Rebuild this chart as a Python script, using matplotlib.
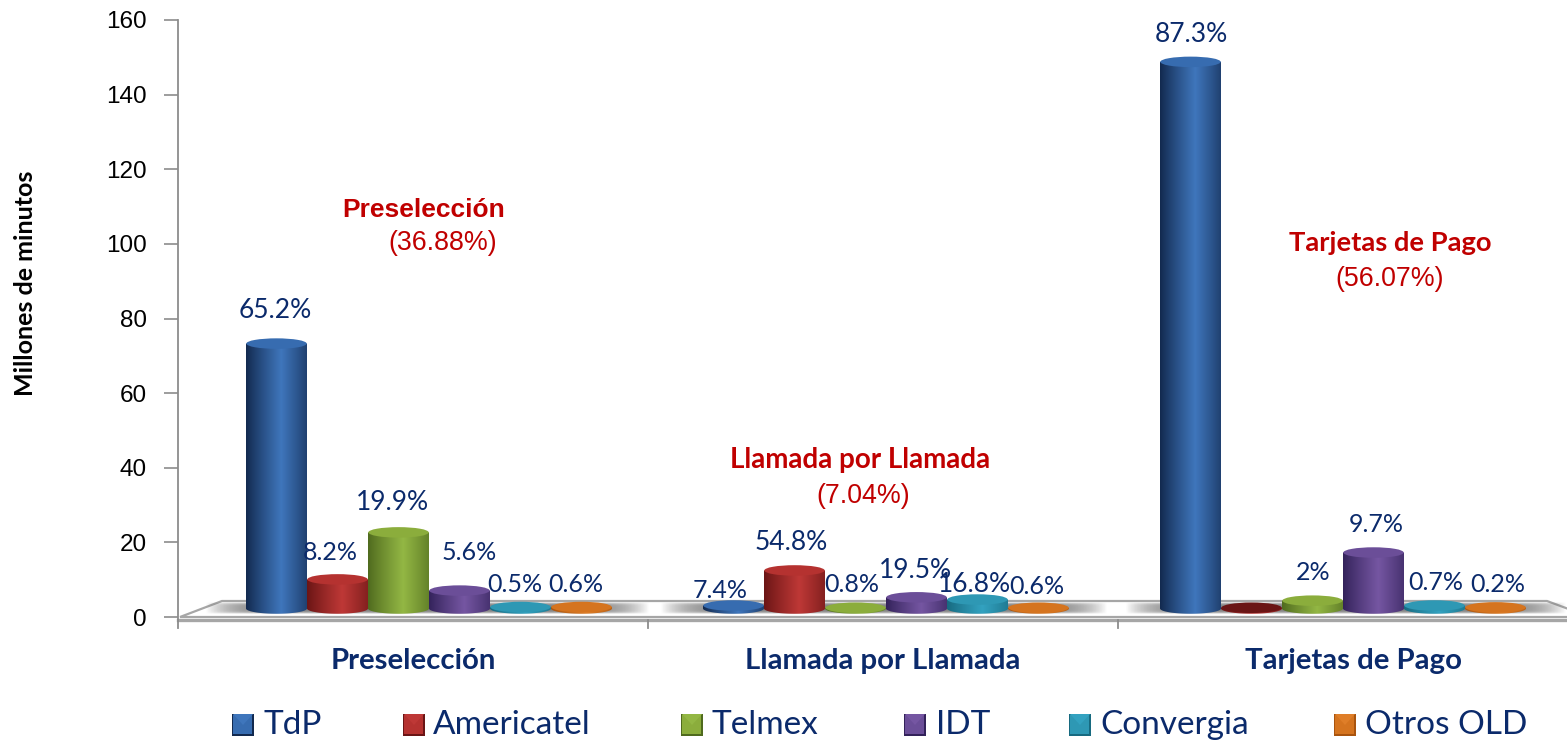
import numpy as np
import matplotlib
matplotlib.use("Agg")
import matplotlib.pyplot as plt
from matplotlib.patches import Polygon, Ellipse, Rectangle
from matplotlib.colors import to_rgb

categories = ["Preselección", "Llamada por Llamada", "Tarjetas de Pago"]
series = ["TdP", "Americatel", "Telmex", "IDT", "Convergia", "Otros OLD"]
tdp = [71, 0.8, 146.5]
americatel = [7.8, 10.2, 0.2]
telmex = [20.4, 0.2, 2.1]
idt = [4.8, 3.0, 15]
convergia = [0.4, 2.4, 0.8]
otros = [0.4, 0.2, 0.3]
pct_tdp = ["65.2%", "7.4%", "87.3%"]
pct_americatel = ["8.2%", "54.8%", ""]
pct_telmex = ["19.9%", "0.8%", "2%"]
pct_idt = ["5.6%", "19.5%", "9.7%"]
pct_convergia = ["0.5%", "16.8%", "0.7%"]
pct_otros = ["0.6%", "0.6%", "0.2%"]
shares = ["(36.88%)", "(7.04%)", "(56.07%)"]
yticks = [0, 20, 40, 60, 80, 100, 120, 140, 160]

W, H = 1567, 742
NAVY = "#0B2A6B"
RED = "#C00000"
GRAY = "#8C8C8C"
SANS = "Liberation Sans"
CAL = "Lato"

dark = ["#12294E", "#6A1515", "#4F6A1E", "#33225A", "#176A80", "#A9540E"]
light = ["#3F76BC", "#BE3836", "#93B744", "#7556A2", "#33A2C0", "#DF7E28"]
top_c = ["#376CB0", "#B53230", "#8BAD3C", "#6B4E98", "#2E98B4", "#D5741F"]

fig = plt.figure(figsize=(W / 100, H / 100), dpi=100)
fig.patch.set_facecolor("white")
ax = fig.add_axes([178 / W, 1 - 617 / H, (1588 - 178) / W, (617 - 20) / H])
ax.set_xlim(0, 3)
ax.set_ylim(0, 160)
ax.patch.set_alpha(0)
for s in ["top", "right"]:
    ax.spines[s].set_visible(False)
ax.spines["bottom"].set_visible(False)
ax.spines["left"].set_color(GRAY)
ax.spines["left"].set_linewidth(1.3)
ax.spines["left"].set_bounds(-1, 160)

PX = 470.0            # pixels per category
PY = 597 / 160.0      # pixels per y unit
ax.set_yticks(yticks)
ax.tick_params(axis="y", length=10, width=1.2, color=GRAY, pad=12.5)
for t in ax.get_yticklabels():
    t.set_fontfamily(SANS)
    t.set_fontsize(17.5)
    t.set_color("black")
ax.set_xticks([0, 1, 2])
ax.set_xticklabels(["", "", ""])
ax.tick_params(axis="x", length=0)
for i in range(3):
    ax.plot([i, i], [-0.8, -3], color=GRAY, lw=1.3, clip_on=False)
    ax.text(i + 0.5, -11.8, categories[i], ha="center", va="center", family=CAL,
            weight="bold", fontsize=21.2, color=NAVY, clip_on=False)

def dx(px):
    return (px - 178) / PX

def dy(py):
    return (617 - py) / PY

# floor
floor = Polygon([(dx(180), dy(617)), (dx(222), dy(601)), (dx(1547), dy(601)), (dx(1590), dy(617))],
                closed=True, facecolor="white", edgecolor="#A6A6A6", lw=1.6, zorder=1, clip_on=False)
ax.add_patch(floor)
ax.plot([dx(178), dx(1590)], [dy(619.5), dy(619.5)], color="#A6A6A6", lw=2.4, zorder=1, clip_on=False)

# group shadows
for gx0, gx1 in [(205, 650), (660, 1108), (1125, 1567)]:
    xx = np.linspace(-1, 1, 300)
    yy = np.linspace(-1, 1, 40)
    gx, gy = np.meshgrid(xx, yy)
    a = np.clip(1 - gx ** 8, 0, 1) * np.clip(1 - gy ** 4, 0, 1) * 0.85
    img = np.zeros(a.shape + (4,))
    img[..., :3] = 0.42
    img[..., 3] = a
    ax.imshow(img, extent=[dx(gx0), dx(gx1), dy(614), dy(602)], aspect="auto", zorder=1.5, clip_on=False)

BAR_W = 61 / PX
GROUP0 = 246.0
GROUP_STEP = 457.0
BASE = dy(608.5)
E_H = 10.5 / PY
values = [tdp, americatel, telmex, idt, convergia, otros]

def gradient(c0, c1):
    u = np.linspace(0, 1, 128)
    w = np.clip(1 - np.abs(u - 0.58) / 0.58, 0, 1) ** 0.9
    c0, c1 = np.array(to_rgb(c0)), np.array(to_rgb(c1))
    return (c0[None, :] * (1 - w[:, None]) + c1[None, :] * w[:, None])[None, :, :]

for g in range(3):
    for s, vals in enumerate(values):
        x0 = dx(GROUP0 + g * GROUP_STEP + s * 61)
        x1 = x0 + BAR_W
        v = vals[g]
        xc = (x0 + x1) / 2
        y1 = BASE + v
        th = np.linspace(np.pi, 2 * np.pi, 60)
        bx = xc + BAR_W / 2 * np.cos(th)
        by = BASE + E_H / 2 * np.sin(th)
        outline = np.vstack([np.column_stack([bx, by]), [x1, y1], [x0, y1]])
        clip = Polygon(outline, closed=True, transform=ax.transData, facecolor="none", edgecolor="none")
        ax.add_patch(clip)
        im = ax.imshow(gradient(dark[s], light[s]), extent=[x0, x1, BASE - E_H, y1], aspect="auto",
                       zorder=3 + s * 0.1, interpolation="bilinear")
        im.set_clip_path(clip)
        cap = dark[s] if (s == 1 and v < 1) else top_c[s]
        ax.add_patch(Ellipse((xc, y1), BAR_W * 0.99, E_H, facecolor=cap, edgecolor="none",
                             zorder=3.05 + s * 0.1))
ax.set_xlim(0, 3)
ax.set_ylim(0, 160)

# pixel-placed texts
def ftext(px, py, s, **kw):
    return fig.text(px / W, 1 - py / H, s, ha=kw.pop("ha", "center"), va="center", **kw)

pct_pos = {
    0: [(275, 311), (330, 552), (392, 502), (469, 552), (515, 585), (576, 585)],
    1: [(720, 590), (791, 542), (852, 585), (915, 570), (974, 585), (1037, 587)],
    2: [(1191, 35), (1252, 580), (1313, 572), (1376, 524), (1436, 582), (1498, 585)],
}
pcts = [pct_tdp, pct_americatel, pct_telmex, pct_idt, pct_convergia, pct_otros]
for g in range(3):
    for s in range(6):
        if pcts[s][g]:
            size = 19 if float(pcts[s][g].strip("%")) > 15 else 18
            ftext(*pct_pos[g][s], pcts[s][g], family=CAL, fontsize=size, color=NAVY, zorder=10)

ftext(26, 283, "Millones de minutos", rotation=90, family=CAL, weight="bold", fontsize=18, color="black")

ftext(424, 210, categories[0], family=SANS, weight="bold", fontsize=19, color=RED)
ftext(443, 243, shares[0], family=SANS, fontsize=19.3, color=RED)
ftext(860, 460, categories[1], family=CAL, weight="bold", fontsize=20, color=RED)
ftext(863, 496, shares[1], family=SANS, fontsize=19.3, color=RED)
ftext(1390, 243, categories[2], family=CAL, weight="bold", fontsize=19.7, color=RED)
ftext(1390, 279, shares[2], family=SANS, fontsize=19.3, color=RED)

# legend
leg_box = [232, 403, 681, 904, 1069, 1334]
leg_text = [264, 433, 712, 936, 1100, 1365]

def P(px, py):
    return (px / W, 1 - py / H)

for s, name in enumerate(series):
    x = leg_box[s]
    y0, y1 = 714, 736
    size = 22
    fig.add_artist(Rectangle(P(x, y1), size / W, size / H, transform=fig.transFigure,
                             facecolor=dark[s], edgecolor="none"))
    fig.add_artist(Rectangle(P(x + 1, y1 - 2), (size - 3) / W, (size - 3) / H, transform=fig.transFigure,
                             facecolor=top_c[s], edgecolor="none"))
    fig.add_artist(Polygon([P(x + 1, y0), P(x + size - 1, y0), P(x + size / 2, y0 + 11)],
                           transform=fig.transFigure, facecolor=light[s], edgecolor="none"))
    ftext(leg_text[s], 725, name, ha="left", family=CAL, fontsize=24, color=NAVY)

fig.savefig("out.png", dpi=100)
